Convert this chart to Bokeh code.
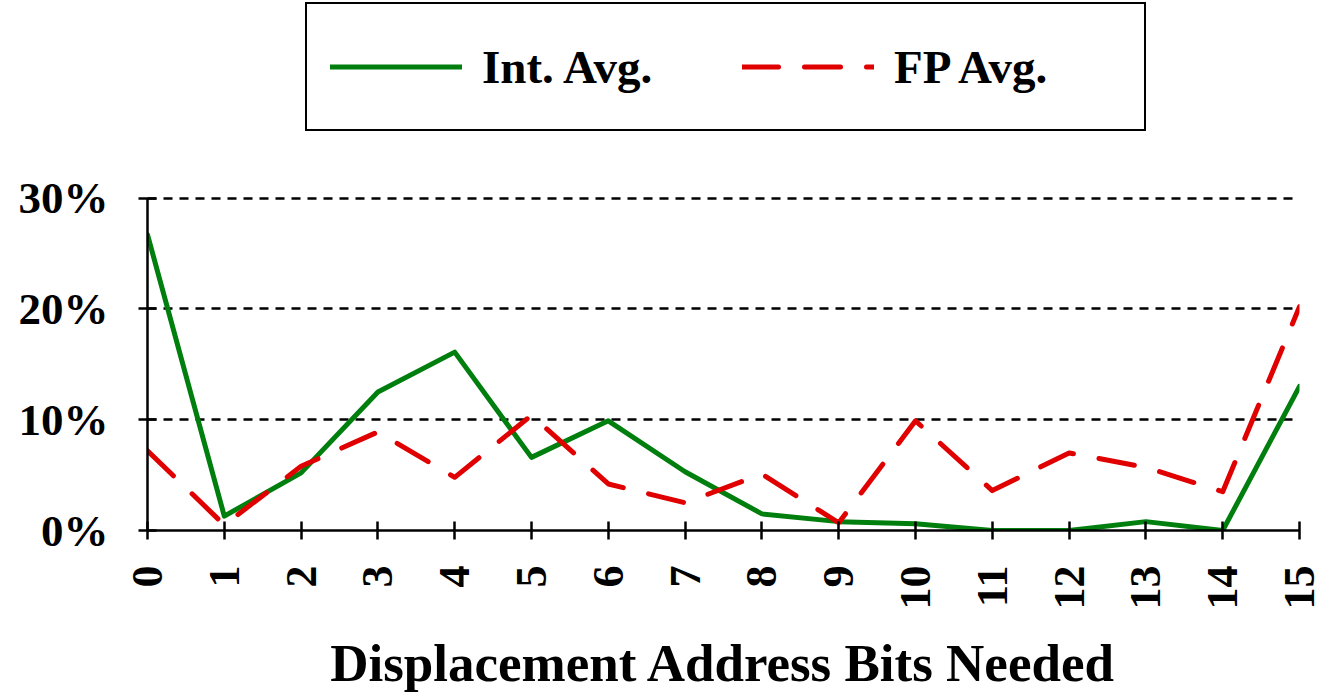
import math
from bokeh.plotting import figure
from bokeh.models import Range1d, FixedTicker, PrintfTickFormatter, Legend, LegendItem
from bokeh.embed import file_html
from bokeh.resources import INLINE

# ---- data ----
bits = list(range(16))
int_avg = [26.7, 1.3, 5.2, 12.5, 16.1, 6.6, 9.9, 5.3, 1.5, 0.8, 0.6, 0.0, 0.0, 0.8, 0.0, 13.0]
fp_avg = [7.2, 0.5, 5.8, 8.9, 4.8, 10.4, 4.2, 2.5, 5.1, 0.7, 9.9, 3.6, 7.0, 5.7, 3.5, 20.2]
y_ticks = [0, 10, 20, 30]
grid_ticks = [10, 20, 30]
series_names = ["Int. Avg.", "FP Avg."]
x_title = "Displacement Address Bits Needed"

FONT = "Liberation Serif"

# frame spans the full top of the canvas; the y axis itself is bounded to 0..30,
# the space above 30% holds the legend box.
Y_TOP = 30 * 531 / 333.0

p = figure(width=1318, height=694, output_backend="svg", toolbar_location=None,
           title=None,
           x_range=Range1d(0, 15), y_range=Range1d(0, Y_TOP),
           min_border_left=147, min_border_right=19,
           min_border_top=0, min_border_bottom=163)
p.outline_line_color = None
p.background_fill_color = "white"
p.border_fill_color = "white"

r1 = p.line(bits, int_avg, line_color="#007F0E", line_width=5,
            line_join="round", line_cap="round")
r2 = p.line(bits, fp_avg, line_color="#E00000", line_width=5,
            line_dash="36 26", line_join="round", line_cap="round")

# x axis
xa = p.xaxis[0]
xa.ticker = FixedTicker(ticks=bits)
xa.major_label_orientation = math.pi / 2
xa.major_label_text_font = FONT
xa.major_label_text_font_style = "bold"
xa.major_label_text_font_size = "44px"
xa.major_label_text_color = "black"
xa.major_label_standoff = 26
xa.major_tick_in = 9
xa.major_tick_out = 9
xa.major_tick_line_width = 2.5
xa.major_tick_line_color = "black"
xa.minor_tick_line_color = None
xa.axis_line_width = 2.5
xa.axis_line_color = "black"
xa.axis_label = x_title
xa.axis_label_text_font = FONT
xa.axis_label_text_font_style = "bold"
xa.axis_label_text_font_size = "53px"
xa.axis_label_text_color = "black"
xa.axis_label_standoff = 21

# y axis
ya = p.yaxis[0]
ya.ticker = FixedTicker(ticks=y_ticks)
ya.bounds = (0, 30)
ya.formatter = PrintfTickFormatter(format="%d%%")
ya.major_label_text_font = FONT
ya.major_label_text_font_style = "bold"
ya.major_label_text_font_size = "45px"
ya.major_label_text_color = "black"
ya.major_label_standoff = 30
ya.major_tick_in = 9
ya.major_tick_out = 9
ya.major_tick_line_width = 2.5
ya.major_tick_line_color = "black"
ya.minor_tick_line_color = None
ya.axis_line_width = 2.5
ya.axis_line_color = "black"

# grids
p.xgrid.grid_line_color = None
p.ygrid.ticker = FixedTicker(ticks=grid_ticks)
p.ygrid.grid_line_color = "black"
p.ygrid.grid_line_width = 2.6
p.ygrid.grid_line_dash = "9 7"

# legend (inside the frame, in the space above 30%)
legend = Legend(
    items=[LegendItem(label=series_names[0], renderers=[r1]),
           LegendItem(label=series_names[1], renderers=[r2])],
    orientation="horizontal", location=(158, 399), margin=0,
    padding=23, spacing=33, glyph_width=132, glyph_height=79,
    label_height=79, label_width=227, label_standoff=20,
    label_text_font=FONT, label_text_font_style="bold",
    label_text_font_size="47px", label_text_color="black",
    border_line_color="black", border_line_width=2, border_line_alpha=1.0,
    background_fill_color="white", background_fill_alpha=1.0,
)
p.add_layout(legend)

open("out.html", "w").write(file_html(p, INLINE))
